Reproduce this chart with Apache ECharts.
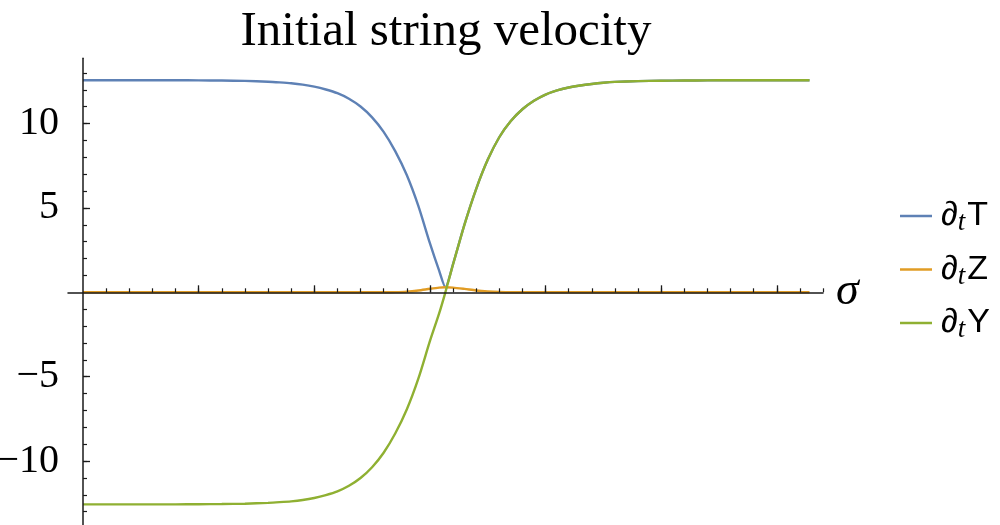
<!DOCTYPE html>
<html>
<head>
<meta charset="utf-8">
<title>Initial string velocity</title>
<script src="https://cdn.jsdelivr.net/npm/echarts@6/dist/echarts.min.js"></script>
<style>
  html, body { margin: 0; padding: 0; background: #fff; }
  #chart { width: 1000px; height: 525px; }
</style>
</head>
<body>
<div id="chart"></div>
<script>
// Sample points along the string, sigma in [0, pi]
const sigma = [0, 0.1, 0.2, 0.3, 0.4, 0.5, 0.6, 0.7, 0.8, 0.85, 0.9, 0.95, 1.0, 1.05, 1.1, 1.15, 1.2, 1.25,
               1.3, 1.35, 1.4, 1.45, 1.5, 1.54, 1.567, 1.6, 1.65, 1.7, 1.75, 1.8, 1.85, 1.9, 1.95, 2.0,
               2.05, 2.1, 2.15, 2.2, 2.25, 2.3, 2.4, 2.5, 2.6, 2.7, 2.8, 2.9, 3.0, 3.1, 3.1416];

// Velocity components at each sample
const dT = [12.57, 12.57, 12.57, 12.57, 12.57, 12.56, 12.55, 12.53, 12.48, 12.44, 12.39, 12.31, 12.19, 12.02,
            11.80, 11.47, 11.01, 10.37, 9.51, 8.37, 6.95, 5.12, 2.91, 1.28, 0.30, 1.67, 4.04, 6.12, 7.85,
            9.19, 10.15, 10.85, 11.35, 11.72, 11.97, 12.14, 12.26, 12.35, 12.42, 12.47, 12.52, 12.54, 12.55,
            12.56, 12.57, 12.57, 12.57, 12.57, 12.57];
const dZ = [0, 0, 0, 0, 0, 0, 0, 0, 0, 0, 0, 0, 0, 0, 0, 0, 0, 0,
            0, 0.01, 0.04, 0.11, 0.21, 0.28, 0.30, 0.28, 0.20, 0.11, 0.05, 0.015, 0, 0, 0, 0,
            0, 0, 0, 0, 0, 0, 0, 0, 0, 0, 0, 0, 0, 0, 0];
const dY = [-12.57, -12.57, -12.57, -12.57, -12.57, -12.56, -12.55, -12.53, -12.48, -12.44, -12.39, -12.31, -12.19, -12.02,
            -11.80, -11.47, -11.01, -10.37, -9.51, -8.37, -6.95, -5.12, -2.90, -1.25, 0, 1.65, 4.03, 6.12, 7.85,
            9.19, 10.15, 10.85, 11.35, 11.72, 11.97, 12.14, 12.26, 12.35, 12.42, 12.47, 12.52, 12.54, 12.55,
            12.56, 12.57, 12.57, 12.57, 12.57, 12.57];

// Axis ticks and labels
const xTickValues = [0.5, 1.0, 1.5, 2.0, 2.5, 3.0];
const xTickLabels = ['0.5', '1.0', '1.5', '2.0', '2.5', '3.0'];
const yTickValues = [-10, -5, 5, 10];
const yTickLabels = ['\u221210', '\u22125', '5', '10'];

const xMinorTicks = [];
for (let i = 1; i <= 32; i++) xMinorTicks.push(i / 10);
const yMinorTicks = [];
for (let i = -13; i <= 13; i++) if (i !== 0) yMinorTicks.push(i);

const seriesNames = ['T', 'Z', 'Y'];
const seriesColors = ['#5E81B5', '#E19C24', '#8FB032'];
const seriesValues = [dT, dZ, dY];

const X_MIN = -0.065, X_MAX = 3.2;
const Y_MIN = -13.87, Y_MAX = 13.87;
const SERIF = '"Liberation Serif", "Times New Roman", serif';
const SANS = '"Liberation Sans", Arial, sans-serif';

const axisColor = '#1a1a1a';

function xAxisBase(extra) {
  return Object.assign({
    type: 'value', min: X_MIN, max: X_MAX, position: 'bottom', z: 5,
    splitLine: { show: false },
    axisLine: { onZero: true, show: false },
    axisLabel: { show: false },
    axisTick: { show: false }
  }, extra);
}
function yAxisBase(extra) {
  return Object.assign({
    type: 'value', min: Y_MIN, max: Y_MAX, position: 'left', z: 5,
    splitLine: { show: false },
    axisLine: { onZero: true, show: false },
    axisLabel: { show: false },
    axisTick: { show: false }
  }, extra);
}

const chart = echarts.init(document.getElementById('chart'), null, { renderer: 'canvas' });

chart.setOption({
  animation: false,
  backgroundColor: '#ffffff',
  title: {
    text: 'Initial string velocity',
    left: 441, top: 3, textAlign: 'center',
    textStyle: { fontFamily: SERIF, fontSize: 49, fontWeight: 'normal', color: '#000' }
  },
  grid: { left: 68, top: 58.3, width: 755, height: 468, outerBoundsMode: 'none', containLabel: false },
  legend: {
    orient: 'vertical',
    left: 895, top: 194,
    itemWidth: 32, itemHeight: 2.5, itemGap: 16,
    icon: 'rect',
    data: seriesNames,
    formatter: function (name) { return '{d|\u2202}{s|t}{v|' + name + '}'; },
    textStyle: {
      color: '#000',
      padding: [0, 0, 0, 4],
      rich: {
        d: { fontFamily: SANS, fontSize: 34, color: '#000' },
        s: { fontFamily: SERIF, fontStyle: 'italic', fontSize: 27, color: '#000', padding: [14, 2, 0, 0] },
        v: { fontFamily: SANS, fontSize: 34, color: '#000' }
      }
    }
  },
  xAxis: [
    xAxisBase({
      name: '\u03c3', nameLocation: 'end', nameGap: 13,
      nameTextStyle: { fontFamily: SERIF, fontStyle: 'italic', fontSize: 46, color: '#000', verticalAlign: 'middle', padding: [4, 0, 0, 0] },
      axisLine: { onZero: true, show: true, lineStyle: { color: axisColor, width: 1.5 } },
      axisTick: { show: true, inside: true, length: 7, customValues: xTickValues, lineStyle: { color: axisColor, width: 1.3 } },
      axisLabel: {
        show: true, margin: 9, customValues: xTickValues,
        fontFamily: SERIF, fontSize: 40, color: '#000',
        formatter: function (v) { return xTickLabels[xTickValues.indexOf(v)]; }
      }
    }),
    xAxisBase({
      axisTick: { show: true, inside: true, length: 4, customValues: xMinorTicks, lineStyle: { color: axisColor, width: 1.2 } }
    })
  ],
  yAxis: [
    yAxisBase({
      axisLine: { onZero: true, show: true, lineStyle: { color: axisColor, width: 1.5 } },
      axisTick: { show: true, inside: true, length: 7, customValues: yTickValues, lineStyle: { color: axisColor, width: 1.3 } },
      axisLabel: {
        show: true, margin: 9, customValues: yTickValues,
        fontFamily: SERIF, fontSize: 40, color: '#000',
        formatter: function (v) { return yTickLabels[yTickValues.indexOf(v)]; }
      }
    }),
    yAxisBase({
      axisTick: { show: true, inside: true, length: 4, customValues: yMinorTicks, lineStyle: { color: axisColor, width: 1.2 } }
    })
  ],
  series: seriesNames.map(function (name, k) {
    return {
      name: name,
      type: 'line',
      xAxisIndex: 0, yAxisIndex: 0,
      showSymbol: false,
      smooth: 0.25,
      color: seriesColors[k],
      lineStyle: { color: seriesColors[k], width: 2.4 },
      emphasis: { disabled: true },
      data: sigma.map(function (s, i) { return [s, seriesValues[k][i]]; })
    };
  })
});
</script>
</body>
</html>
